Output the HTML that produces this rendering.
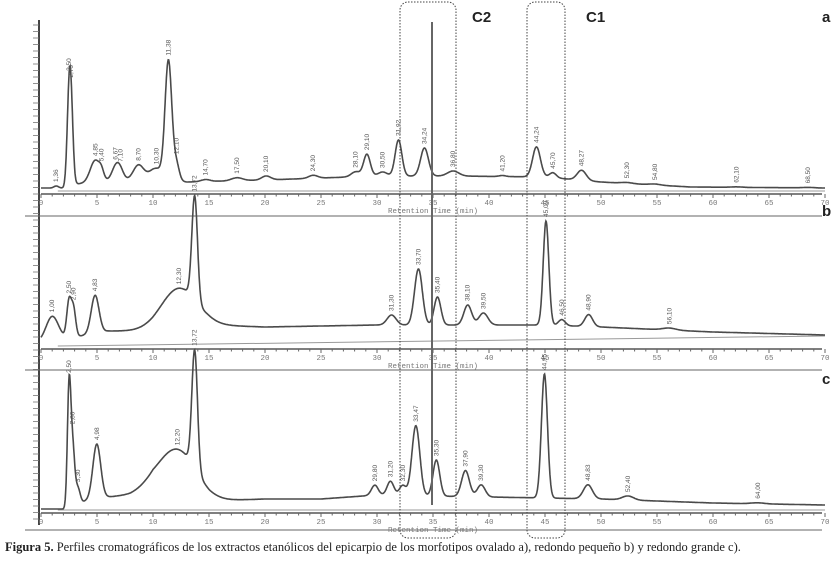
<!DOCTYPE html>
<html><head><meta charset="utf-8"><style>
body{margin:0;background:#fff;}
svg{display:block;font-family:"Liberation Sans",sans-serif;}
.cap{position:absolute;left:5px;top:540px;font-family:"Liberation Serif",serif;font-size:12.5px;color:#222;white-space:nowrap;}
</style></head><body>
<svg id="chart" width="836" height="574"></svg>
<div class="cap"><b>Figura 5.</b> Perfiles cromatográficos de los extractos etanólicos del epicarpio de los morfotipos ovalado a), redondo pequeño b) y redondo grande c).</div>
<script>
// Panel a
const aTimes=[1.36,2.5,2.7,4.85,5.4,6.67,7.1,8.7,10.3,11.38,12.1,14.7,17.5,20.1,24.3,28.1,29.1,30.5,31.92,34.24,36.8,41.2,44.24,45.7,48.27,52.3,54.8,62.1,68.5];
const aHeights=[2,78,62,22,6,14,8,14,10,118,16,2,3,4,3,5,22,4,36,28,5,1,30,5,10,1,1,0.5,0.5];
const aWidths=[0.2,0.18,0.18,0.45,0.2,0.35,0.3,0.45,0.6,0.3,0.25,0.4,0.5,0.4,0.4,0.4,0.3,0.4,0.3,0.35,0.5,0.3,0.35,0.3,0.4,0.5,0.5,0.5,0.5];
const aBaseT=[0,2,3.2,5,10,13,20,30,37,45,50,58,70];
const aBaseH=[2,2,6,8,12,8,10,14,14,13,8,3,2];
// Panel b
const bTimes=[1.0,2.5,2.9,4.83,13.72,12.3,31.3,33.7,35.4,38.1,39.5,45.09,46.5,48.9,56.1];
const bHeights=[24,36,28,38,104,40,10,56,28,20,12,104,6,12,2];
const bWidths=[0.55,0.2,0.2,0.35,0.25,1.6,0.4,0.35,0.3,0.35,0.4,0.25,0.3,0.35,0.6];
const bBaseT=[0,3,6,10,15,20,30,40,45,50,60,70];
const bBaseH=[3,8,14,14,20,18,20,20,20,18,13,10];
// Panel c
const cTimes=[2.5,2.8,3.3,4.98,13.72,12.2,29.8,31.2,32.3,33.47,35.3,37.9,39.3,44.95,48.83,52.4,64];
const cHeights=[110,62,15,55,118,45,10,14,10,70,36,26,12,124,14,4,1];
const cWidths=[0.15,0.2,0.2,0.35,0.25,1.7,0.3,0.3,0.3,0.35,0.3,0.35,0.35,0.27,0.4,0.5,0.6];
const cBaseT=[0,2,4,6,8,10,15,20,25,30,40,50,60,70];
const cBaseH=[0,0,8,12,14,20,8,10,10,14,12,10,6,4];

const svg=document.getElementById('chart');
const NS='http://www.w3.org/2000/svg';
const xs=t=>41+11.2*t;
function mk(tag,attrs,par){const e=document.createElementNS(NS,tag);for(const k in attrs)e.setAttribute(k,attrs[k]);(par||svg).appendChild(e);return e;}
function interp(T,H,t){for(let i=1;i<T.length;i++){if(t<=T[i]){const f=(t-T[i-1])/(T[i]-T[i-1]);return H[i-1]+f*(H[i]-H[i-1]);}}return H[H.length-1];}
function panel(id,axisY,T,Hs,W,BT,BH,letter,letterY){
  const g=mk('g',{});
  
  
  const ax=mk('line',{x1:41,y1:axisY,x2:822,y2:axisY,stroke:'#555','stroke-width':1.5},g);
  
  
  for(let t=0;t<=70;t+=1){
    const tk=mk('line',{x1:xs(t),y1:axisY,x2:xs(t),y2:axisY+(t%5==0?4:2.5),stroke:'#666','stroke-width':1},g);
    
    
  }
  for(let t=0;t<=70;t+=5){
    const tl=mk('text',{x:xs(t),y:axisY+11,'font-size':7.5,'text-anchor':'middle',fill:'#777','font-family':'Liberation Mono,monospace'},g);
    tl.textContent=t;
    
    
  }
  const rt=mk('text',{x:xs(35),y:axisY+19,'font-size':7.5,'text-anchor':'middle',fill:'#777','font-family':'Liberation Mono,monospace'},g);
  rt.textContent='Retention Time (min)';
  
  
  const bl=mk('line',{x1:xs(1.5),y1:axisY-3,x2:xs(70),y2:axisY-3-(id=='b'?10:0),stroke:'#999','stroke-width':1},g);
  
  
  const yAt=t=>{let h=interp(BT,BH,t);for(let i=0;i<T.length;i++){h+=Hs[i]*Math.exp(-0.5*Math.pow((t-T[i])/W[i],2));}return axisY-4-h;};
  let d='';
  for(let t=0;t<=70;t+=0.04){d+=(d?'L':'M')+xs(t).toFixed(1)+','+yAt(t).toFixed(1);}
  const tr=mk('path',{d:d,fill:'none',stroke:'#4a4a4a','stroke-width':1.6},g);
  
  
  for(let i=0;i<T.length;i++){
    const x=xs(T[i]),y=yAt(T[i])-4;
    const lb=mk('text',{x:0,y:0,'font-size':6.5,fill:'#555',transform:`translate(${(x+2).toFixed(1)},${y.toFixed(1)}) rotate(-90)`},g);
    lb.textContent=T[i].toFixed(2).replace('.',',');
    
    
  }
  const lt=mk('text',{x:822,y:letterY,'font-size':15,'font-weight':'bold',fill:'#222'},g);
  lt.textContent=letter;
  
  
}
const yl=mk('line',{x1:39,y1:20,x2:39,y2:525,stroke:'#444','stroke-width':2});


for(let y=25;y<520;y+=6.5){const t=mk('line',{x1:33,y1:y,x2:39,y2:y,stroke:'#777','stroke-width':0.8});}
[216,370,530].forEach(y=>{const l=mk('line',{x1:25,y1:y,x2:822,y2:y,stroke:'#666','stroke-width':1});});
panel('a',194,aTimes,aHeights,aWidths,aBaseT,aBaseH,'a',22);
panel('b',349,bTimes,bHeights,bWidths,bBaseT,bBaseH,'b',216);
panel('c',513,cTimes,cHeights,cWidths,cBaseT,cBaseH,'c',384);
const b2=mk('rect',{x:400,y:2,width:56,height:536,rx:8,fill:'none',stroke:'#444','stroke-width':1,'stroke-dasharray':'1.5,1.5'});


const b1=mk('rect',{x:527,y:2,width:38,height:536,rx:8,fill:'none',stroke:'#444','stroke-width':1,'stroke-dasharray':'1.5,1.5'});


const vl=mk('line',{x1:432,y1:22,x2:432,y2:505,stroke:'#666','stroke-width':2});


const t2=mk('text',{x:472,y:22,'font-size':15,'font-weight':'bold',fill:'#222'});t2.textContent='C2';


const t1=mk('text',{x:586,y:22,'font-size':15,'font-weight':'bold',fill:'#222'});t1.textContent='C1';


</script>
</body></html>
